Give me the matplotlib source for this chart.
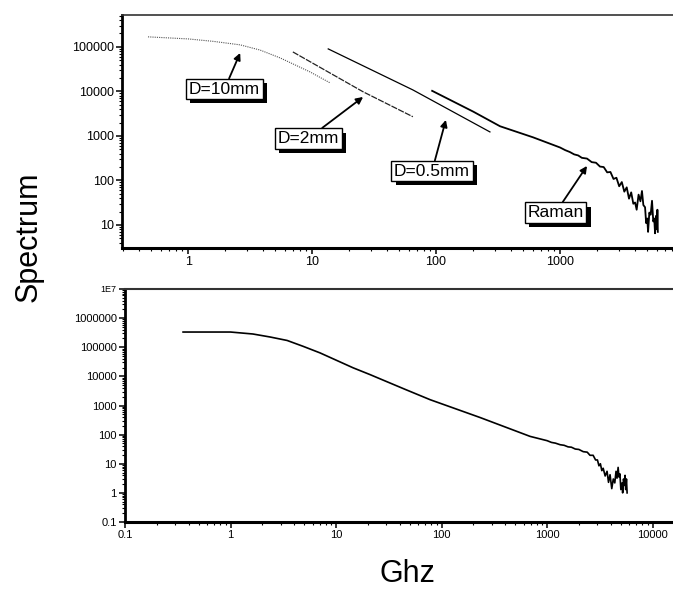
import matplotlib
matplotlib.use("Agg")
import matplotlib.pyplot as plt
import matplotlib.patheffects as pe
from matplotlib.ticker import FixedLocator, LogLocator, NullFormatter

plt.rcParams.update({
    "font.family": ["Liberation Sans", "DejaVu Sans"],
    "font.size": 9,
})

# upper panel: three probe diameters and the Raman spectrum
d10_f = [0.475, 1.0, 1.6, 2.63, 3.8, 5.52, 9.6, 14.0]
d10_s = [1.68e5, 1.51e5, 1.33e5, 1.11e5, 8.5e4, 5.66e4, 2.75e4, 1.55e4]

d2_f = [7.0, 25.8, 65.0]
d2_s = [7.7e4, 9.8e3, 2.7e3]

d05_f = [13.5, 65.0, 272.0]
d05_s = [9.0e4, 1.08e4, 1.23e3]

raman_f = [93, 200, 328, 606,
           1000, 1100, 1200, 1300, 1400, 1500, 1650, 1800, 1950, 2100,
           2250, 2400, 2550, 2700, 2850, 3000, 3150, 3300, 3450, 3600,
           3750, 3900, 4030, 4150, 4300, 4450, 4580, 4700, 4850, 4950,
           5050, 5130, 5250, 5380, 5520, 5650, 5750, 5840, 5950, 6060,
           6100, 6150]
raman_s = [1.03e4, 3.5e3, 1.65e3, 930,
           550, 480, 435, 385, 365, 322, 310, 258, 250, 205,
           200, 152, 155, 108, 115, 74, 92, 56, 70, 39,
           54, 30, 32, 22, 48, 34, 58, 28, 25, 11,
           14, 7, 19, 17, 35, 12, 14, 6.5, 16, 8,
           22, 7]

# lower panel: combined spectrum
full_f = [0.355, 1.0, 1.63, 2.37, 3.44, 4.86, 7.05, 10.2, 14.5, 21, 26,
          45, 78, 232, 690,
          1000, 1100, 1200, 1330, 1450, 1580, 1700, 1850, 2000, 2200,
          2400, 2550, 2730, 2880, 3000, 3100, 3200, 3300, 3400, 3550,
          3700, 3820, 3950, 4100, 4240, 4380, 4500, 4600, 4710, 4800,
          4900, 5000, 5140, 5200, 5300, 5400, 5480, 5560, 5650, 5730]
full_s = [3.33e5, 3.33e5, 2.85e5, 2.25e5, 1.71e5, 1.08e5, 6.4e4, 3.5e4,
          1.97e4, 1.15e4, 8.3e3, 3.6e3, 1580, 386, 87,
          62, 54, 51, 45, 43, 38, 37, 32, 31, 26,
          25, 19.5, 19.5, 13.5, 13.5, 8.5, 10, 5.8, 7, 3.8,
          5.5, 2.3, 4.2, 1.4, 3.0, 2.2, 5.5, 3.2, 7.5, 3.5,
          4.5, 1.3, 2.2, 1.0, 3.0, 1.8, 4.0, 1.3, 3.0, 1.0]

top_yticks = [10, 100, 1000, 10000, 100000]
bot_yticks = [0.1, 1, 10, 100, 1000, 10000, 100000, 1000000, 1e7]
bot_ylabels = ["0.1", "1", "10", "100", "1000", "10000", "100000",
               "1000000", "1E7"]
top_xticks = [1, 10, 100, 1000]
bot_xticks = [0.1, 1, 10, 100, 1000, 10000]

fig = plt.figure(figsize=(6.73, 5.92), dpi=100)
ax1 = fig.add_axes([122 / 673, 1 - 248 / 592, 551 / 673, 233 / 592])
ax2 = fig.add_axes([125 / 673, 1 - 522 / 592, 548 / 673, 233 / 592])


def style_axis(ax, lw_left, lw_bottom, lw_top):
    ax.set_xscale("log")
    ax.set_yscale("log")
    ax.spines["right"].set_visible(False)
    ax.spines["left"].set_linewidth(lw_left)
    ax.spines["bottom"].set_linewidth(lw_bottom)
    ax.spines["top"].set_linewidth(lw_top)
    ax.spines["top"].set_color("#333333")
    ax.tick_params(which="major", direction="out", length=4, width=1.1,
                   pad=2, top=False, right=False)
    ax.tick_params(which="minor", direction="out", length=2.2, width=0.8,
                   top=False, right=False)
    ax.xaxis.set_minor_locator(LogLocator(base=10, subs=range(2, 10), numticks=20))
    ax.yaxis.set_minor_locator(LogLocator(base=10, subs=range(2, 10), numticks=20))
    ax.xaxis.set_minor_formatter(NullFormatter())
    ax.yaxis.set_minor_formatter(NullFormatter())


style_axis(ax1, 2.0, 2.2, 1.2)
ax1.plot(d10_f, d10_s, color="#555555", lw=0.8, ls=(0, (1, 1)))
ax1.plot(d2_f, d2_s, color="#222222", lw=0.9, ls=(0, (5, 1)))
ax1.plot(d05_f, d05_s, color="black", lw=0.9)
ax1.plot(raman_f, raman_s, color="black", lw=1.3)
ax1.set_xlim(0.293, 8150)
ax1.set_ylim(3.04, 5.2e5)
ax1.xaxis.set_major_locator(FixedLocator(top_xticks))
ax1.set_xticklabels([str(v) for v in top_xticks], fontsize=9)
ax1.yaxis.set_major_locator(FixedLocator(top_yticks))
ax1.set_yticklabels([str(v) for v in top_yticks], fontsize=9)

shadow = [pe.SimplePatchShadow(offset=(3, -3), shadow_rgbFace="black", alpha=1.0),
          pe.Normal()]
labels = [
    ("D=10mm", (0.186, 0.682), (2.63, 7.3e4)),
    ("D=2mm", (0.338, 0.470), (25.8, 7.5e3)),
    ("D=0.5mm", (0.5626, 0.330), (120, 2290)),
    ("Raman", (0.787, 0.152), (1650, 212)),
]
for text, pos, tip in labels:
    ann = ax1.annotate(text, xy=tip, xycoords="data", xytext=pos,
                       textcoords="axes fraction", ha="center", va="center",
                       fontsize=12.5,
                       bbox=dict(boxstyle="square,pad=0.15", fc="white",
                                 ec="black", lw=1.0),
                       arrowprops=dict(arrowstyle="-|>", color="black",
                                       lw=1.3, mutation_scale=10,
                                       shrinkA=0, shrinkB=0))
    ann.get_bbox_patch().set_path_effects(shadow)

style_axis(ax2, 2.0, 2.2, 1.5)
ax2.plot(full_f, full_s, color="black", lw=1.2)
ax2.set_xlim(0.1, 15600)
ax2.set_ylim(0.1, 1e7)
ax2.xaxis.set_major_locator(FixedLocator(bot_xticks))
ax2.set_xticklabels([("%g" % v) for v in bot_xticks], fontsize=8)
ax2.yaxis.set_major_locator(FixedLocator(bot_yticks))
ax2.set_yticklabels(bot_ylabels, fontsize=8)
ax2.get_yticklabels()[-1].set_fontsize(6.5)

fig.text(29 / 673, 1 - 237 / 592, "Spectrum", rotation=90, fontsize=22,
         ha="center", va="center")
fig.text(407 / 673, 1 - 574 / 592, "Ghz", fontsize=22,
         ha="center", va="center")

fig.savefig("out.png", dpi=100)
